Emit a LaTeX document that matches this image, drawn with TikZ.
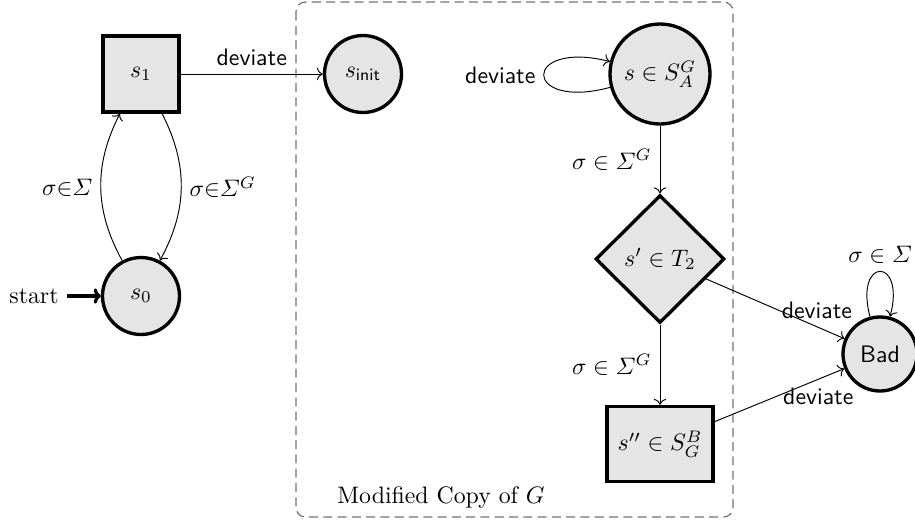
\documentclass[tikz,border=0pt]{standalone}
\usepackage{amsmath}
\usetikzlibrary{shapes.geometric,arrows.meta}
\begin{document}
\begin{tikzpicture}[x=0.42pt,y=-0.42pt,
  st/.style={draw,line width=1.4pt,fill=gray!20,inner sep=1pt},
  cst/.style={st,circle,minimum size=#1*0.42pt},
  rst/.style={st,rectangle},
  lab/.style={font=\sffamily},
  edge/.style={->}]
\useasboundingbox (0,0) rectangle (915,525);
\draw[black!55,line width=0.5pt,dash pattern=on 3.8pt off 2.2pt,rounded corners=4pt] (296,2) rectangle (733,517);
\node[anchor=center] (cap) at (441,498) {Modified Copy of $G$};

\node[rst,minimum width=76*0.42pt,minimum height=76*0.42pt] (s1) at (141,74) {$s_1$};
\node[cst=77] (s0) at (141,296) {$s_0$};
\node (start) at (34,296) {start};
\node[cst=77] (sinit) at (363,74) {$s_{\mathsf{init}}$};
\node[cst=100] (sA) at (660,74) {$s\in S_A^G$};
\node[st,diamond,aspect=1,minimum width=129*0.42pt,minimum height=128*0.42pt] (sT) at (660,259) {$s'\in T_2$};
\node[rst,minimum width=106*0.42pt,minimum height=75*0.42pt] (sB) at (660,444) {$s''\in S_G^B$};
\node[cst=74,font=\sffamily] (bad) at (880,354) {Bad};

\draw[line width=1.4pt,-{To[length=3pt,width=6.5pt]}] (start) -- (s0);
\draw[edge] (s0) to[bend left=28] node[left] {$\sigma{\in}\varSigma$} (s1);
\draw[edge] (s1) to[bend left=28] node[right] {$\sigma{\in}\varSigma^G$} (s0);
\draw[edge] (s1) -- node[above,lab] {deviate} (sinit);
\draw[edge] (sA) to[out=195,in=166,looseness=9] node[left,lab] {deviate} (sA);
\draw[edge] (sA) -- node[left] {$\sigma\in\varSigma^G$} (sT);
\draw[edge] (sT) -- node[left] {$\sigma\in\varSigma^G$} (sB);
\draw[edge] (sT) -- node[pos=0.8,above,lab] {deviate} (bad);
\draw[edge] (sB) -- node[pos=0.8,below,lab] {deviate} (bad);
\draw[edge] (bad) to[loop above,looseness=8] node[above] {$\sigma\in\varSigma$} (bad);
\end{tikzpicture}
\end{document}
